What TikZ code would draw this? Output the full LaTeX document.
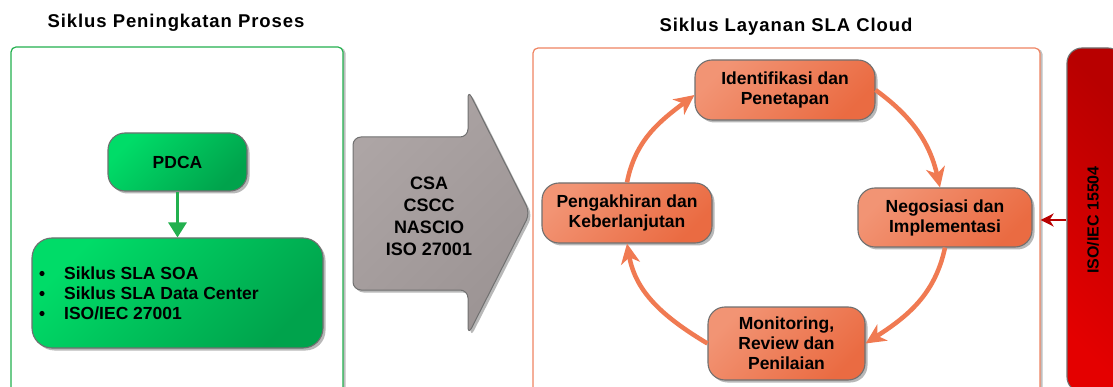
\documentclass[tikz,border=0pt]{standalone}
\usepackage{fontspec}
\setmainfont{Liberation Sans}
\usetikzlibrary{arrows.meta,shadows}

\definecolor{grnL}{HTML}{00DC68}
\definecolor{grnD}{HTML}{00A34C}
\definecolor{grnLine}{HTML}{22B04E}
\definecolor{orL}{HTML}{F29474}
\definecolor{orD}{HTML}{EA6B42}
\definecolor{orLine}{HTML}{F07A52}
\definecolor{orBorder}{HTML}{EF8462}
\definecolor{gyL}{HTML}{ADA5A5}
\definecolor{gyD}{HTML}{9C9494}
\definecolor{rdD}{HTML}{B80000}
\definecolor{rdL}{HTML}{E40000}
\definecolor{boxline}{HTML}{707070}

\begin{document}
\begin{tikzpicture}[x=1pt,y=1pt,
  font=\bfseries,
  shadowed/.style={drop shadow={shadow xshift=2.5pt,shadow yshift=-2.5pt,fill=black,opacity=0.28}},
  paneltitle/.style={font=\bfseries\fontsize{18.5}{22}\selectfont\addfontfeature{LetterSpace=5}},
  panel/.style={draw=#1, line width=1.2pt, rounded corners=5pt, fill=white,
    drop shadow={shadow xshift=2.5pt,shadow yshift=-1pt,fill=black,opacity=0.25}},
  greenbox/.style={draw=boxline, line width=1.1pt, top color=grnL, bottom color=grnD,
    shading angle=45, shadowed},
  orbox/.style={draw=boxline, line width=1.1pt, rounded corners=17pt, top color=orL, bottom color=orD,
    shading angle=45, shadowed, align=center, font=\bfseries\fontsize{17.5}{20}\selectfont},
  listline/.style={anchor=base west, inner sep=0pt, font=\bfseries\fontsize{17.5}{20}\selectfont},
  greenarrow/.style={draw=grnLine, line width=3pt, -{Triangle[length=15pt,width=18pt]}},
  orarrow/.style={draw=orLine, line width=4.5pt, -{Stealth[length=20pt,width=19pt,inset=6pt]}},
  redarrow/.style={draw=rdD, line width=2.8pt, -{Stealth[length=13pt,width=13pt,inset=4pt]}},
  grayarrow/.style={draw=boxline, line width=1pt, rounded corners=8pt, top color=gyL, bottom color=gyD,
    shading angle=45, shadowed}
]
\useasboundingbox (0,0) rectangle (1113,-387);

% panels
\node[panel=grnLine, minimum width=332pt, minimum height=345pt] (lp) at (177,-219.5) {};
\node[panel=orBorder, minimum width=507pt, minimum height=344pt] (rp) at (786.5,-220) {};

% titles
\node[paneltitle] (t1) at (176,-23) {Siklus Peningkatan Proses};
\node[paneltitle] (t2) at (786,-27) {Siklus Layanan SLA Cloud};

% left side
\node[greenbox, rounded corners=17pt, minimum width=139pt, minimum height=58pt,
  font=\bfseries\fontsize{17.5}{20}\selectfont] (pdca) at (177.5,-162) {PDCA};
\node[greenbox, rounded corners=20pt, minimum width=291pt, minimum height=110pt] (src) at (177.5,-293) {};
\node[listline] (l1) at (64,-279.5) {Siklus SLA SOA};
\node[listline] (l2) at (64,-299.5) {Siklus SLA Data Center};
\node[listline] (l3) at (64,-319.5) {ISO/IEC 27001};
\foreach \l in {l1,l2,l3}
  \fill ([xshift=-22pt,yshift=6pt]\l.base west) circle (2.6pt);
\draw[greenarrow] (pdca.south) -- (src.north);

% big gray arrow
\path[grayarrow] (353,-137) -- (468,-137) -- (468,-90) -- (530,-213) -- (468,-335)
  -- (468,-290) -- (353,-290) -- cycle;
\node[align=center, font=\bfseries\fontsize{18}{22}\selectfont] (std) at (429,-216)
  {CSA\\CSCC\\NASCIO\\ISO 27001};

% cycle
\node[orbox, minimum width=180pt, minimum height=60pt] (id) at (785,-90) {Identifikasi dan\\Penetapan};
\node[orbox, minimum width=174pt, minimum height=59pt] (neg) at (945,-217.5) {Negosiasi dan\\Implementasi};
\node[orbox, minimum width=157pt, minimum height=73pt] (mon) at (786.5,-343.5) {Monitoring,\\Review dan\\Penilaian};
\node[orbox, minimum width=170pt, minimum height=60pt] (peng) at (627,-213) {Pengakhiran dan\\Keberlanjutan};

\draw[orarrow] (id.east) to[out=-36,in=103] ([xshift=-5pt]neg.north);
\draw[orarrow] (neg.south) to[out=-102,in=33] (mon.east);
\draw[orarrow] (mon.west) to[out=149,in=-80] (peng.south);
\draw[orarrow] (peng.north) to[out=79,in=-143] ([yshift=-5pt]id.west);

% red bar
\node[draw=boxline, line width=1.1pt, rounded corners=15pt, top color=rdD, bottom color=rdL,
  shading angle=-45, minimum width=56pt, minimum height=344pt] (red) at (1095,-220) {};
\node[rotate=90, font=\bfseries\fontsize{16}{19}\selectfont] (redlbl) at (1093,-220) {ISO/IEC 15504};
\draw[redarrow] (red.west) -- (rp.east);
\end{tikzpicture}
\end{document}
